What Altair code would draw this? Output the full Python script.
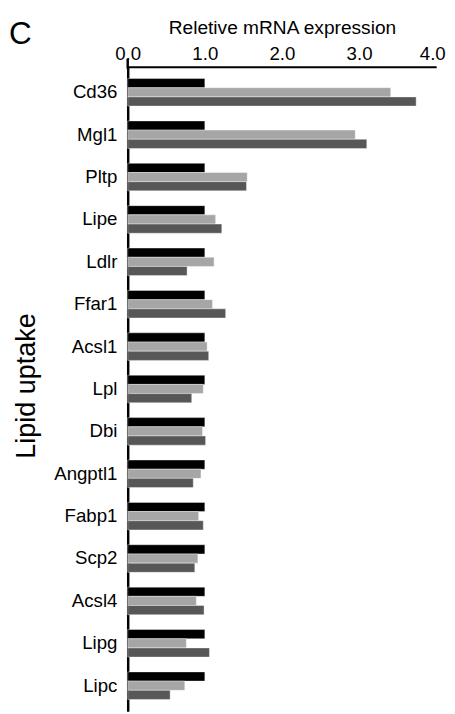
import altair as alt
import pandas as pd

genes = ["Cd36", "Mgl1", "Pltp", "Lipe", "Ldlr", "Ffar1", "Acsl1", "Lpl", "Dbi",
         "Angptl1", "Fabp1", "Scp2", "Acsl4", "Lipg", "Lipc"]
series = ["Group 1", "Group 2", "Group 3"]
colors = ["#000000", "#a6a6a6", "#575757"]
g1 = [1.0] * 15
g2 = [3.41, 2.95, 1.55, 1.14, 1.12, 1.10, 1.03, 0.98, 0.97, 0.95, 0.92, 0.91, 0.89, 0.76, 0.74]
g3 = [3.74, 3.10, 1.54, 1.22, 0.77, 1.27, 1.05, 0.83, 1.01, 0.85, 0.98, 0.87, 0.99, 1.06, 0.55]
x_ticks = [0, 1, 2, 3, 4]

rows = []
for i, g in enumerate(genes):
    for s, vals in zip(series, [g1, g2, g3]):
        rows.append({"gene": g, "series": s, "value": vals[i]})
df = pd.DataFrame(rows)

FONT = "Liberation Sans"
W = 314.4
H = 657

bars = alt.Chart(df).mark_bar(stroke="#ffffff", strokeWidth=0.4).encode(
    x=alt.X("value:Q",
            scale=alt.Scale(domain=[0, 4], nice=False, zero=True),
            axis=alt.Axis(orient="top", values=x_ticks, format=".1f",
                          title="Reletive mRNA expression", titleFont=FONT,
                          titleFontSize=19.5, titleFontWeight="normal", titleColor="#000",
                          titleY=-34, titleBaseline="alphabetic",
                          labelFont=FONT, labelFontSize=19, labelColor="#000",
                          labelBaseline="alphabetic", labelPadding=7,
                          labelOffset={"condition": {"test": "datum.value == 4", "value": -4}, "value": 0},
                          ticks=False, grid=False, domainColor="#000", domainWidth=2,
                          labelFlush=False)),
    y=alt.Y("gene:N", sort=genes,
            scale=alt.Scale(paddingInner=0.35, paddingOuter=0.28),
            axis=alt.Axis(title="Lipid uptake", titleFont=FONT, titleFontSize=27.5,
                          titleFontWeight="normal", titleColor="#000",
                          titleAngle=-90, titleX=-103, titleY=325,
                          titleBaseline="middle", titleAlign="center",
                          labelFont=FONT, labelFontSize=19, labelColor="#000",
                          labelPadding=11, ticks=False, grid=False,
                          domainColor="#000", domainWidth=2.5)),
    yOffset=alt.YOffset("series:N", sort=series,
                        scale=alt.Scale(paddingInner=0, paddingOuter=0)),
    color=alt.Color("series:N", sort=series,
                    scale=alt.Scale(domain=series, range=colors), legend=None),
)

ext = alt.Chart(pd.DataFrame({"a": [0]})).mark_rule(color="#000", strokeWidth=2.5).encode(
    x=alt.value(0), y=alt.value(-8), y2=alt.value(2)
)

label_c = alt.Chart(pd.DataFrame({"t": ["C"]})).mark_text(
    font=FONT, fontSize=32, align="left", baseline="alphabetic", color="#000"
).encode(text="t:N", x=alt.value(-121), y=alt.value(-23))

chart = alt.layer(bars, ext, label_c).properties(
    width=W, height=H,
    autosize=alt.AutoSizeParams(type="none"),
    padding={"left": 122, "top": 53, "right": 11, "bottom": 0},
).configure_view(stroke=None)

chart.save("out.html", embed_options={"renderer": "svg", "actions": False})
